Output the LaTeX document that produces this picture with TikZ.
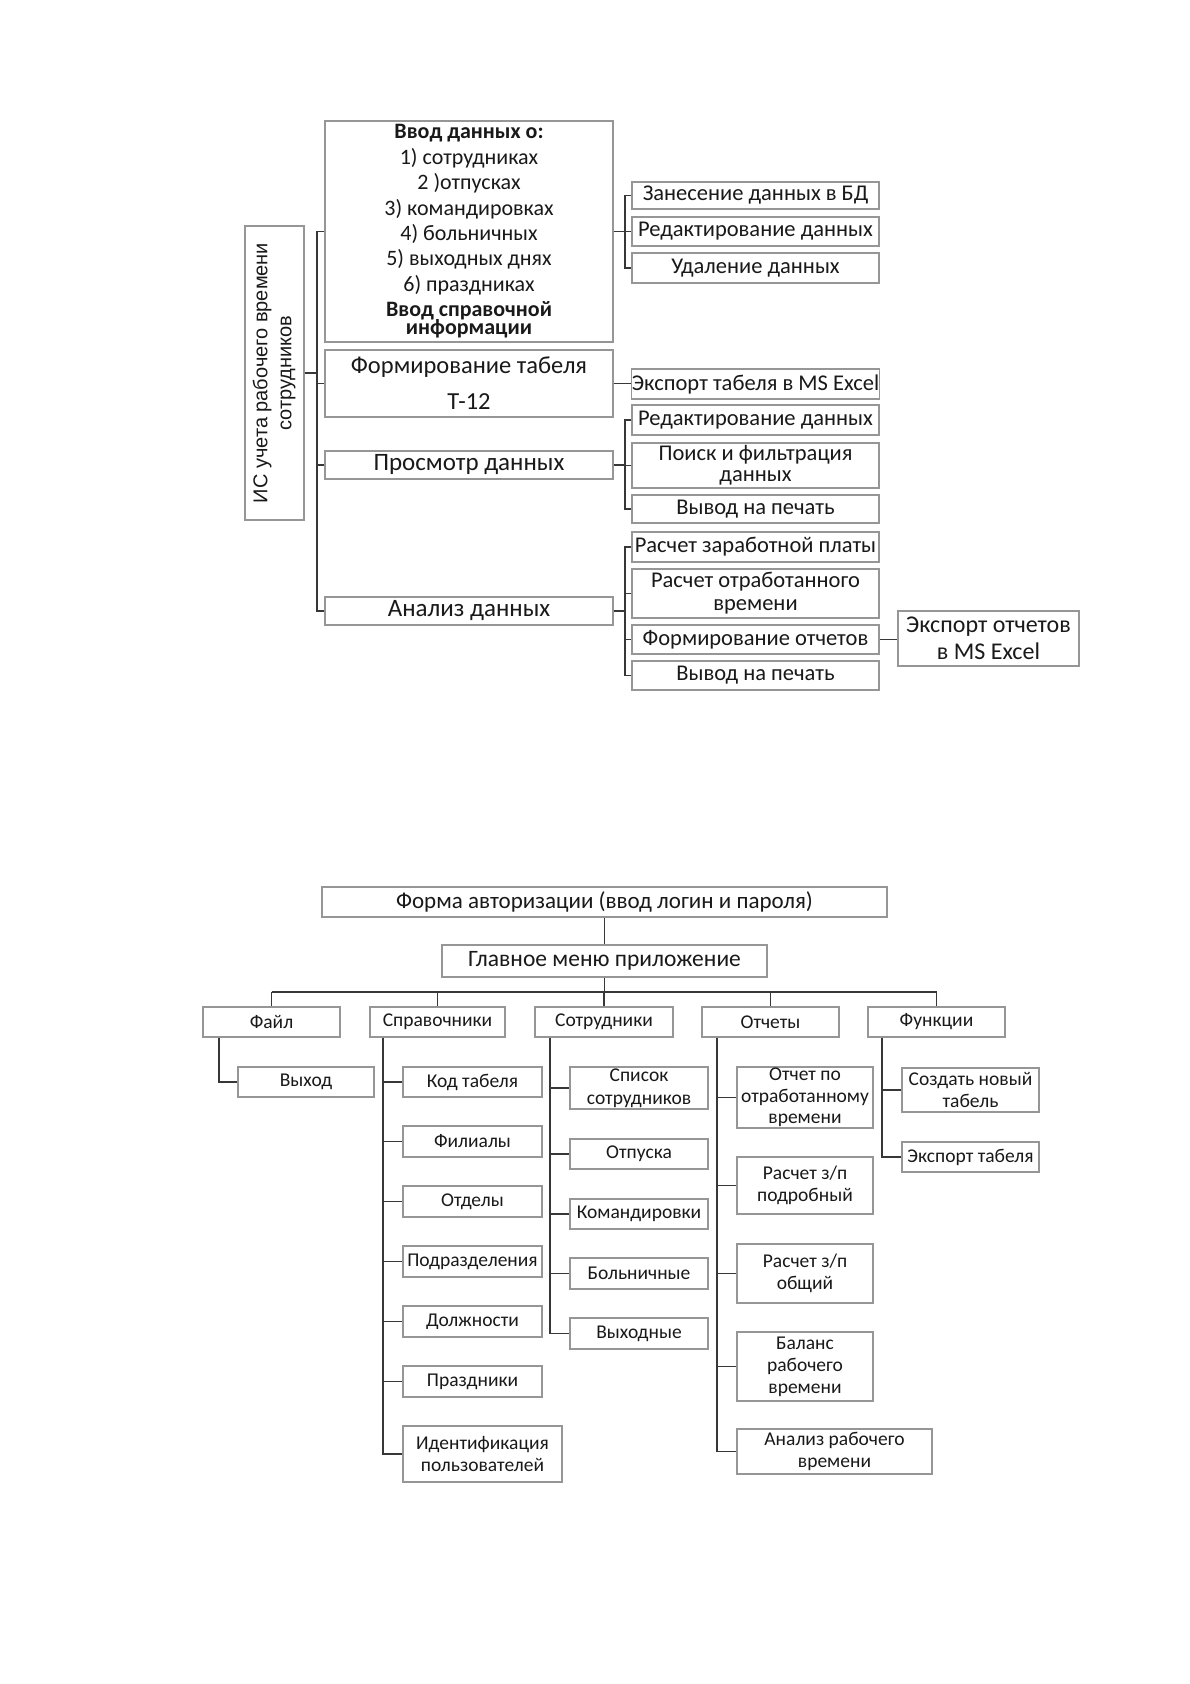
\documentclass[tikz,border=0pt]{standalone}
\usepackage{fontspec}
\setmainfont{Carlito}
\newfontfamily\arialf{Liberation Sans}
\definecolor{boxc}{RGB}{150,150,150}
\definecolor{connc}{RGB}{55,55,55}
\definecolor{txtc}{RGB}{25,25,25}
\newcommand\fs[2]{\fontsize{#1}{#2}\selectfont}
\newcommand\bx[7][]{\node[box,#1,minimum width={#4pt-#2pt},minimum height={#5pt-#3pt}] (#6) at ({(#2+#4)/2},{(#3+#5)/2}) {#7};}
\tikzset{
  box/.style={draw=boxc,line width=1.3pt,inner sep=0pt,text=txtc,align=center,font=\fs{22.5}{23}},
  big/.style={font=\fs{25}{27}},
  sm/.style={font=\fs{19.5}{22}},
  conn/.style={draw=connc,line width=1.7pt}
}
\begin{document}
\begin{tikzpicture}[x=1pt,y=-1pt]
\useasboundingbox[fill=white] (0,0) rectangle (1190,1684);
% ---------- top diagram ----------
\bx[font=\arialf\fs{20}{24}]{245}{226}{304}{520}{is}{\rotatebox{90}{\begin{tabular}{@{}c@{}}ИС учета рабочего времени\\сотрудников\end{tabular}}}
\bx[font=\fs{22}{25.4}]{325}{121}{613}{342}{vvod}{\textbf{Ввод данных о:}\\1) сотрудниках\\2 )отпусках\\3) командировках\\4) больничных\\5) выходных днях\\6) праздниках\\\textbf{Ввод справочной}\\[-7.4pt]\textbf{информации}}
\bx[font=\fs{24.5}{26}]{325}{350}{613}{417}{form}{Формирование табеля\\[10pt]Т-12}
\bx[big]{325}{451}{613}{479}{pros}{Просмотр данных}
\bx[big]{325}{597}{613}{625}{ana}{Анализ данных}

\bx{632}{182}{879}{209}{z1}{Занесение данных в БД}
\bx{632}{217}{879}{246}{z2}{Редактирование данных}
\bx{632}{253}{879}{283}{z3}{Удаление данных}
\bx{632}{369}{879}{399}{ex1}{Экспорт табеля в MS Excel}
\bx{632}{405}{879}{435}{r2}{Редактирование данных}
\bx[font=\fs{22.5}{21}]{632}{443}{879}{488}{p2}{Поиск и фильтрация\\данных}
\bx{632}{495}{879}{523}{v1}{Вывод на печать}
\bx{632}{532}{879}{562}{a1}{Расчет заработной платы}
\bx{632}{569}{879}{618}{a2}{Расчет отработанного\\времени}
\bx{632}{625}{879}{654}{a3}{Формирование отчетов}
\bx{632}{661}{879}{690}{a4}{Вывод на печать}
\bx[font=\fs{24}{27}]{898}{611}{1079}{666}{exr}{Экспорт отчетов\\в MS Excel}

\coordinate (b1) at (317,0);
\coordinate (b2) at (625,0);
\draw[conn] (is.east) -- (is.east -| b1);
\draw[conn] (vvod.west) -- (vvod.west -| b1) -- (ana.west -| b1) -- (ana.west);
\draw[conn] (form.west -| b1) -- (form.west);
\draw[conn] (pros.west -| b1) -- (pros.west);

\draw[conn] (vvod.east) -- (vvod.east -| b2);
\draw[conn] (z1.west) -- (z1.west -| b2) -- (z3.west -| b2) -- (z3.west);
\draw[conn] (z2.west -| b2) -- (z2.west);
\draw[conn] (form.east) -- (form.east -| ex1.west);
\draw[conn] (pros.east) -- (pros.east -| b2);
\draw[conn] (r2.west) -- (r2.west -| b2) -- (v1.west -| b2) -- (v1.west);
\draw[conn] (p2.west -| b2) -- (p2.west);
\draw[conn] (ana.east) -- (ana.east -| b2);
\draw[conn] (a1.west) -- (a1.west -| b2) -- (a4.west -| b2) -- (a4.west);
\draw[conn] (a2.west -| b2) -- (a2.west);
\draw[conn] (a3.west -| b2) -- (a3.west);
\draw[conn] (a3.east) -- (a3.east -| exr.west);

% ---------- bottom diagram ----------
\bx[font=\fs{23}{25}]{322}{887}{887}{917}{auth}{Форма авторизации (ввод логин и пароля)}
\bx[font=\fs{23.5}{25}]{442}{945}{767}{977}{menu}{Главное меню приложение}
\bx[sm]{203}{1007}{340}{1037}{fajl}{Файл}
\bx[sm]{370}{1007}{505}{1037}{sprav}{Справочники}
\bx[sm]{535}{1007}{673}{1037}{sotr}{Сотрудники}
\bx[sm]{702}{1007}{839}{1037}{otch}{Отчеты}
\bx[sm]{868}{1007}{1005}{1037}{func}{Функции}

\bx[sm]{238}{1067}{374}{1097}{vyhod}{Выход}
\bx[sm]{403}{1067}{542}{1097}{kod}{Код табеля}
\bx[sm]{403}{1126}{542}{1157}{fil}{Филиалы}
\bx[sm]{403}{1186}{542}{1217}{otd}{Отделы}
\bx[sm]{403}{1246}{542}{1277}{podr}{Подразделения}
\bx[sm]{403}{1306}{542}{1337}{dolzh}{Должности}
\bx[sm]{403}{1366}{542}{1397}{prazd}{Праздники}
\bx[sm]{403}{1426}{562}{1482}{ident}{Идентификация\\пользователей}

\bx[sm,font=\fs{19.5}{23}]{570}{1067}{708}{1109}{spis}{Список\\сотрудников}
\bx[sm]{570}{1139}{708}{1169}{otp}{Отпуска}
\bx[sm]{570}{1199}{708}{1229}{kom}{Командировки}
\bx[sm]{570}{1258}{708}{1289}{bol}{Больничные}
\bx[sm]{570}{1318}{708}{1349}{vyh}{Выходные}

\bx[sm,font=\fs{19.5}{21.5}]{737}{1067}{873}{1128}{o1}{Отчет по\\отработанному\\времени}
\bx[sm]{737}{1157}{873}{1214}{o2}{Расчет з/п\\подробный}
\bx[sm]{737}{1244}{873}{1303}{o3}{Расчет з/п\\общий}
\bx[sm]{737}{1332}{873}{1401}{o4}{Баланс\\рабочего\\времени}
\bx[sm]{737}{1429}{932}{1474}{o5}{Анализ рабочего\\времени}

\bx[sm]{902}{1068}{1039}{1112}{f1}{Создать новый\\табель}
\bx[sm]{902}{1142}{1039}{1172}{f2}{Экспорт табеля}

\coordinate (bus) at (0,992);
\coordinate (xF) at (219,0);
\coordinate (xS) at (383,0);
\coordinate (xC) at (550,0);
\coordinate (xO) at (717,0);
\coordinate (xFn) at (882,0);
\draw[conn] (auth.south) -- (menu.north);
\draw[conn] (menu.south) -- (menu.south |- bus);
\draw[conn] (fajl.north |- bus) -- (func.north |- bus);
\foreach \n in {fajl,sprav,sotr,otch,func}{\draw[conn] (\n.north |- bus) -- (\n.north);}

\draw[conn] (fajl.south -| xF) |- (vyhod.west);
\draw[conn] (sprav.south -| xS) |- (ident.west);
\foreach \n in {kod,fil,otd,podr,dolzh,prazd}{\draw[conn] (\n.west -| xS) -- (\n.west);}
\draw[conn] (sotr.south -| xC) |- (vyh.west);
\foreach \n in {spis,otp,kom,bol}{\draw[conn] (\n.west -| xC) -- (\n.west);}
\draw[conn] (otch.south -| xO) |- (o5.west);
\foreach \n in {o1,o2,o3,o4}{\draw[conn] (\n.west -| xO) -- (\n.west);}
\draw[conn] (func.south -| xFn) |- (f2.west);
\draw[conn] (f1.west -| xFn) -- (f1.west);
\end{tikzpicture}
\end{document}
